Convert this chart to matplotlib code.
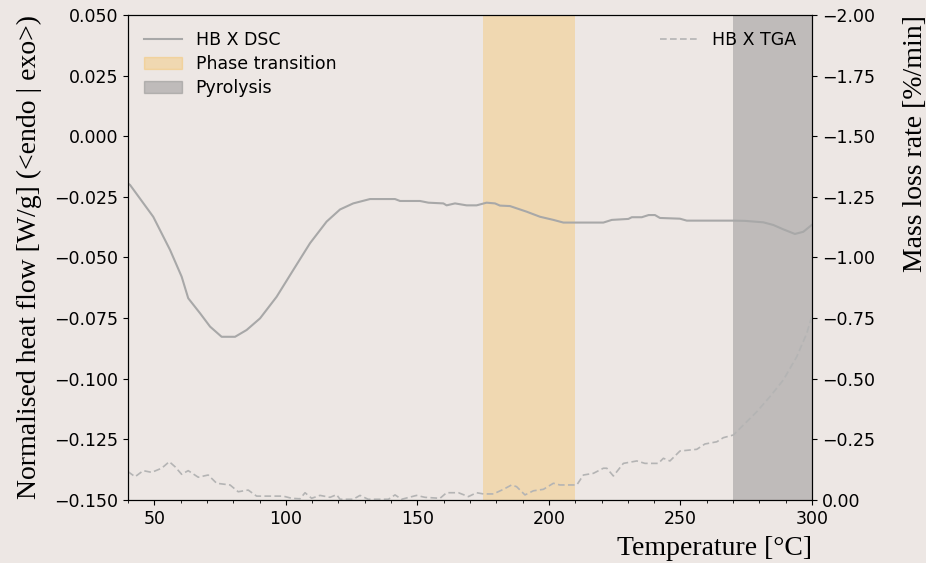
import matplotlib
matplotlib.use("Agg")
import matplotlib.pyplot as plt
from matplotlib.patches import Patch
from matplotlib.lines import Line2D
from matplotlib.ticker import MultipleLocator, FuncFormatter

# DSC heat flow (W/g) against temperature (degC)
dsc_temp = [40.0, 40.8, 49.6, 56.0, 60.4, 62.9, 67.4, 71.2, 75.6, 80.7, 85.1,
            90.2, 96.5, 102.8, 109.2, 115.5, 120.6, 125.6, 132.0, 141.5, 143.4,
            151.0, 154.2, 159.9, 161.1, 164.3, 168.7, 172.5, 176.3, 179.5, 181.4,
            185.2, 191.5, 196.6, 201.7, 205.5, 220.7, 223.9, 230.2, 231.5, 235.3,
            237.9, 240.3, 242.2, 249.8, 252.4, 270.1, 274.5, 281.5, 285.3, 289.1,
            293.5, 296.7, 300.0]
dsc_flow = [-0.0195, -0.0201, -0.0332, -0.0469, -0.0579, -0.0668, -0.0730, -0.0785,
            -0.0827, -0.0827, -0.0799, -0.0751, -0.0662, -0.0552, -0.0441, -0.0352,
            -0.0302, -0.0277, -0.0259, -0.0259, -0.0267, -0.0267, -0.0274, -0.0277,
            -0.0285, -0.0277, -0.0285, -0.0285, -0.0274, -0.0277, -0.0286, -0.0288,
            -0.0311, -0.0332, -0.0345, -0.0356, -0.0356, -0.0345, -0.0341, -0.0334,
            -0.0334, -0.0325, -0.0325, -0.0337, -0.0340, -0.0348, -0.0348, -0.0349,
            -0.0355, -0.0366, -0.0384, -0.0403, -0.0394, -0.0365]

# TGA mass loss rate (%/min) against temperature (degC)
tga_temp = [40.0, 42.7, 45.8, 49.0, 52.8, 55.7, 57.9, 60.4, 62.9, 66.7, 70.5,
            73.7, 78.8, 81.9, 85.7, 88.9, 99.0, 102.2, 105.4, 107.3, 109.8, 113.0,
            116.8, 119.3, 120.6, 125.6, 128.2, 131.3, 139.0, 141.5, 144.0, 149.7,
            152.9, 158.6, 161.1, 165.6, 169.4, 172.5, 175.1, 178.9, 182.7, 185.8,
            187.7, 190.9, 194.1, 197.9, 201.7, 204.2, 210.6, 213.1, 216.9, 220.7,
            222.0, 224.5, 228.3, 233.4, 236.5, 241.6, 243.5, 246.0, 249.8, 256.2,
            259.3, 263.8, 266.3, 270.1, 273.9, 279.0, 284.0, 289.1, 294.2, 298.0,
            299.9]
tga_rate = [-0.117, -0.096, -0.121, -0.114, -0.131, -0.158, -0.137, -0.106, -0.121,
            -0.094, -0.103, -0.069, -0.062, -0.034, -0.041, -0.016, -0.016, -0.007,
            -0.005, -0.030, -0.007, -0.019, -0.011, -0.022, -0.003, -0.003, -0.019,
            -0.003, -0.003, -0.021, -0.003, -0.019, -0.011, -0.007, -0.030, -0.030,
            -0.014, -0.030, -0.025, -0.025, -0.044, -0.062, -0.055, -0.021, -0.038,
            -0.044, -0.069, -0.062, -0.062, -0.103, -0.110, -0.131, -0.131, -0.099,
            -0.151, -0.161, -0.151, -0.151, -0.172, -0.161, -0.202, -0.209, -0.231,
            -0.240, -0.257, -0.268, -0.309, -0.364, -0.426, -0.495, -0.591, -0.687,
            -0.756]

# shaded temperature windows
phase_window = (175, 210)
pyrolysis_window = (270, 300)

bg = "#ede7e4"
line_col = "#a8a8a8"
tga_col = "#b4b4b4"
tick_size = 12.5
label_font = "Liberation Serif"
label_size = 20


def fmt(decimals):
    # proper minus sign for the tick labels
    return FuncFormatter(lambda v, p: f"{v:.{decimals}f}".replace("-", "\u2212"))


fig = plt.figure(figsize=(9.26, 5.63), dpi=100, facecolor=bg)
ax = fig.add_axes([0.1382, 0.1119, 0.7387, 0.8615])
ax.set_facecolor("none")

ax.axvspan(*phase_window, color="orange", alpha=0.22, lw=0)
ax.axvspan(*pyrolysis_window, color="gray", alpha=0.42, lw=0)
ax.plot(dsc_temp, dsc_flow, color=line_col, lw=1.5)

ax.set_xlim(40, 300)
ax.set_ylim(-0.15, 0.05)
ax.xaxis.set_major_locator(MultipleLocator(50))
ax.xaxis.set_minor_locator(MultipleLocator(10))
ax.yaxis.set_major_locator(MultipleLocator(0.025))
ax.yaxis.set_major_formatter(fmt(3))
ax.tick_params(labelsize=tick_size)
ax.set_xlabel("Temperature [°C]", fontfamily=label_font, fontsize=label_size,
              loc="right", labelpad=6)
ax.set_ylabel("Normalised heat flow [W/g] (<endo | exo>)", fontfamily=label_font,
              fontsize=label_size, labelpad=9)

ax2 = ax.twinx()
ax2.plot(tga_temp, tga_rate, color=tga_col, lw=1.2, ls=(0, (4, 2)))
ax2.set_ylim(0, -2)
ax2.yaxis.set_major_locator(MultipleLocator(0.25))
ax2.yaxis.set_major_formatter(fmt(2))
ax2.tick_params(labelsize=tick_size)
ax2.set_ylabel("Mass loss rate [%/min]", fontfamily=label_font, fontsize=label_size,
               loc="top", labelpad=20)

handles = [
    Line2D([], [], color=line_col, lw=1.5, label="HB X DSC"),
    Patch(facecolor="orange", alpha=0.22, edgecolor="orange", label="Phase transition"),
    Patch(facecolor="gray", alpha=0.42, edgecolor="gray", label="Pyrolysis"),
]
ax.legend(handles=handles, loc="upper left", frameon=False, fontsize=tick_size,
          labelspacing=0.35, handlelength=2.2)
ax2.legend(handles=[Line2D([], [], color=tga_col, lw=1.2, ls=(0, (4, 2)),
                           label="HB X TGA")],
           loc="upper right", frameon=False, fontsize=tick_size, handlelength=2.2)

fig.savefig("out.png", dpi=100, facecolor=bg)
